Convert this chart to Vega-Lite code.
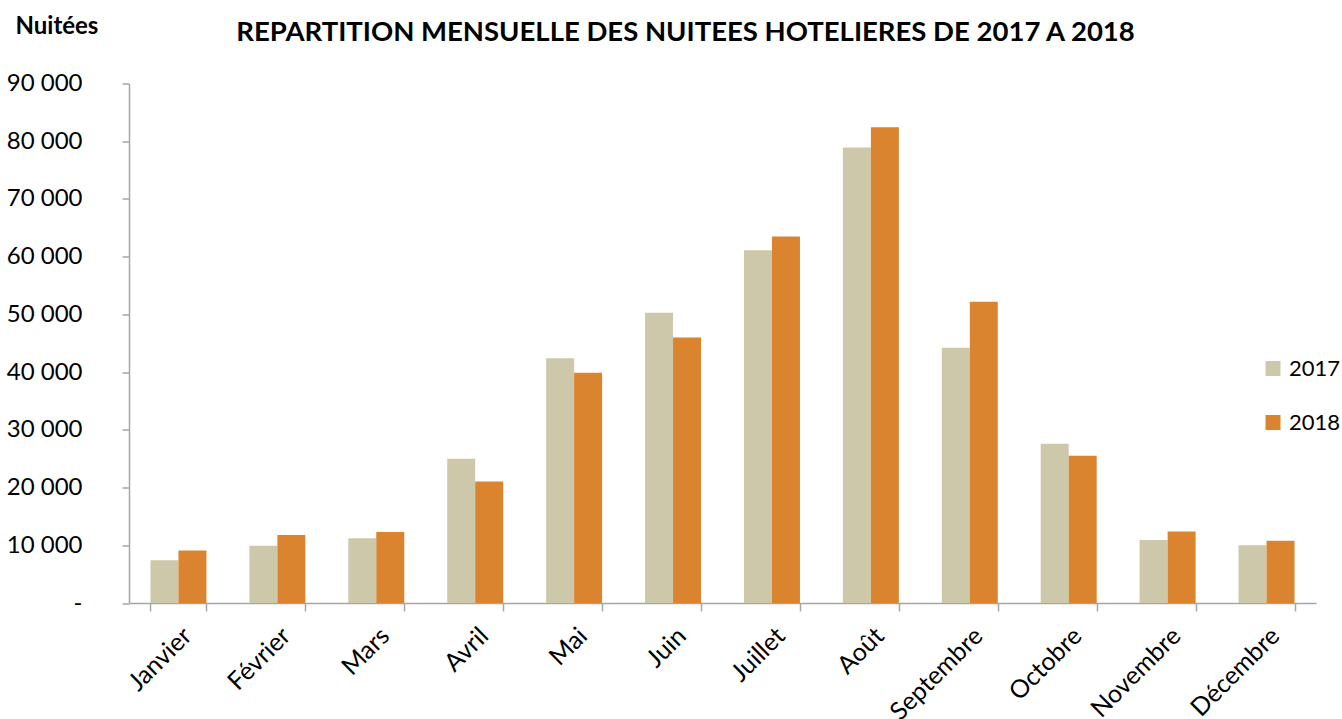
{
  "$schema": "https://vega.github.io/schema/vega-lite/v6.json",
  "autosize": {"type": "none"},
  "padding": {"left": 129, "top": 83.5, "right": 26, "bottom": 116},
  "width": 1187,
  "height": 519.5,
  "background": "white",
  "title": {
    "text": "REPARTITION MENSUELLE DES NUITEES HOTELIERES DE 2017 A 2018",
    "font": "Lato",
    "fontWeight": "bold",
    "fontSize": 27.5,
    "color": "black",
    "anchor": "middle",
    "frame": "group",
    "baseline": "alphabetic",
    "dx": -37,
    "dy": 54,
    "offset": 0
  },
  "config": {
    "view": {"stroke": null},
    "font": "Lato"
  },
  "data": {
    "values": [
      {"mois": "Janvier", "annee": "2017", "nuitees": 7400},
      {"mois": "Janvier", "annee": "2018", "nuitees": 9100},
      {"mois": "Février", "annee": "2017", "nuitees": 9900},
      {"mois": "Février", "annee": "2018", "nuitees": 11800},
      {"mois": "Mars", "annee": "2017", "nuitees": 11200},
      {"mois": "Mars", "annee": "2018", "nuitees": 12300},
      {"mois": "Avril", "annee": "2017", "nuitees": 25000},
      {"mois": "Avril", "annee": "2018", "nuitees": 21050},
      {"mois": "Mai", "annee": "2017", "nuitees": 42400},
      {"mois": "Mai", "annee": "2018", "nuitees": 39900},
      {"mois": "Juin", "annee": "2017", "nuitees": 50300},
      {"mois": "Juin", "annee": "2018", "nuitees": 46000},
      {"mois": "Juillet", "annee": "2017", "nuitees": 61100},
      {"mois": "Juillet", "annee": "2018", "nuitees": 63500},
      {"mois": "Août", "annee": "2017", "nuitees": 78900},
      {"mois": "Août", "annee": "2018", "nuitees": 82400},
      {"mois": "Septembre", "annee": "2017", "nuitees": 44200},
      {"mois": "Septembre", "annee": "2018", "nuitees": 52200},
      {"mois": "Octobre", "annee": "2017", "nuitees": 27600},
      {"mois": "Octobre", "annee": "2018", "nuitees": 25500},
      {"mois": "Novembre", "annee": "2017", "nuitees": 10900},
      {"mois": "Novembre", "annee": "2018", "nuitees": 12400},
      {"mois": "Décembre", "annee": "2017", "nuitees": 10000},
      {"mois": "Décembre", "annee": "2018", "nuitees": 10800}
    ]
  },
  "mark": {"type": "bar"},
  "encoding": {
    "x": {
      "field": "mois",
      "type": "nominal",
      "sort": null,
      "scale": {"paddingInner": 0.434, "paddingOuter": 0.217},
      "axis": {
        "title": null,
        "labelAngle": -45,
        "labelFont": "Lato",
        "labelFontSize": 25,
        "labelColor": "black",
        "labelPadding": 12,
        "tickBand": "extent",
        "tickSize": 8,
        "tickColor": "#A6A6A6",
        "domainColor": "#A6A6A6",
        "tickWidth": 1.5,
        "domainWidth": 1.5,
        "grid": false
      }
    },
    "xOffset": {"field": "annee", "type": "nominal"},
    "y": {
      "field": "nuitees",
      "type": "quantitative",
      "scale": {"domain": [0, 90000], "nice": false},
      "axis": {
        "values": [0, 10000, 20000, 30000, 40000, 50000, 60000, 70000, 80000, 90000],
        "labelExpr": "datum.value == 0 ? '-' : format(datum.value / 1000, 'd') + ' 000'",
        "labelFont": "Lato",
        "labelFontSize": 24,
        "labelColor": "black",
        "labelPadding": 40,
        "tickSize": 7,
        "tickColor": "#A6A6A6",
        "domainColor": "#A6A6A6",
        "tickWidth": 1.5,
        "domainWidth": 1.5,
        "grid": false,
        "title": "Nuitées",
        "titleAngle": 0,
        "titleAlign": "left",
        "titleBaseline": "alphabetic",
        "titleX": -114,
        "titleY": -50.5,
        "titleFont": "Lato",
        "titleFontSize": 24,
        "titleFontWeight": "bold",
        "titleColor": "black"
      }
    },
    "color": {
      "field": "annee",
      "type": "nominal",
      "scale": {"domain": ["2017", "2018"], "range": ["#CDC8AA", "#DB8430"]},
      "legend": {
        "title": null,
        "orient": "none",
        "legendX": 1133,
        "legendY": 274,
        "symbolType": "square",
        "symbolSize": 225,
        "symbolStrokeWidth": 0,
        "symbolOpacity": 1,
        "labelFont": "Lato",
        "labelFontSize": 22,
        "labelColor": "black",
        "labelOffset": 5,
        "rowPadding": 32
      }
    }
  }
}
